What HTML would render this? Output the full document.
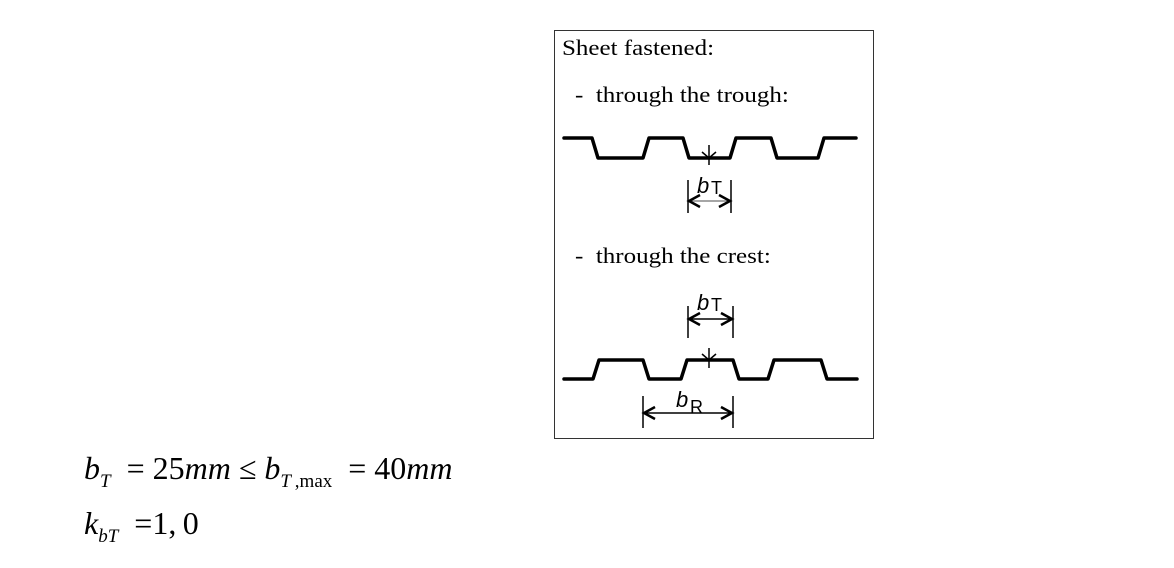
<!DOCTYPE html>
<html><head><style>
body{margin:0;width:1174px;height:568px;background:#fff;overflow:hidden;position:relative;font-family:"Liberation Serif",serif}
.t{position:absolute;font-size:25px;color:#000;white-space:nowrap;transform:scaleY(0.9);transform-origin:left top}
.f{position:absolute;font-size:32px;white-space:nowrap}
i{font-style:italic}
sub{font-size:19px;vertical-align:-8px}
</style></head><body>
<svg width="1174" height="568" style="position:absolute;left:0;top:0">
<rect x="554.5" y="30.5" width="319" height="408" fill="none" stroke="#333" stroke-width="1"/>
<g fill="none" stroke="#000" stroke-width="3.5" stroke-linejoin="round" stroke-linecap="round">
<polyline points="564,138 592,138 598,158 643,158 649,138 683,138 689,158 730,158 736,138 771,138 777,158 818,158 824,138 856,138"/>
<polyline points="564,379 593,379 599,360 643,360 649,379 681,379 687,360 733,360 739,379 768,379 774,360 821,360 827,379 857,379"/>
</g>
<g stroke="#000" stroke-width="1.5" fill="none">
<line x1="709" y1="145" x2="709" y2="165"/><line x1="702" y1="152" x2="709" y2="158"/><line x1="716" y1="152" x2="709" y2="158"/>
<line x1="709" y1="348" x2="709" y2="368"/><line x1="702" y1="354" x2="709" y2="360"/><line x1="716" y1="354" x2="709" y2="360"/>
<line x1="688" y1="180" x2="688" y2="213"/><line x1="731" y1="180" x2="731" y2="213"/>
<line x1="689" y1="201" x2="730" y2="201" stroke="#888"/>
<polyline points="700,195 689,201 700,207" stroke-width="2.5"/><polyline points="719,195 730,201 719,207" stroke-width="2.5"/>
<line x1="688" y1="306" x2="688" y2="338"/><line x1="733" y1="306" x2="733" y2="338"/>
<line x1="689" y1="319" x2="732" y2="319"/>
<polyline points="700,313 689,319 700,325" stroke-width="2.5"/><polyline points="721,313 732,319 721,325" stroke-width="2.5"/>
<line x1="643" y1="396" x2="643" y2="428"/><line x1="733" y1="396" x2="733" y2="428"/>
<line x1="644" y1="413" x2="732" y2="413"/>
<polyline points="655,407 644,413 655,419" stroke-width="2.5"/><polyline points="721,407 732,413 721,419" stroke-width="2.5"/>
</g>
<g font-family="Liberation Sans, sans-serif" font-size="22">
<text x="697" y="193" font-style="italic">b</text><text x="711" y="194" font-size="18">T</text>
<text x="697" y="310" font-style="italic">b</text><text x="711" y="311" font-size="18">T</text>
<text x="676" y="407" font-style="italic">b</text><text x="690" y="413" font-size="18">R</text>
</g>
</svg>
<div class="t" style="left:562px;top:36px">Sheet fastened:</div>
<div class="t" style="left:575px;top:83px">-&nbsp; through the trough:</div>
<div class="t" style="left:575px;top:244px">-&nbsp; through the crest:</div>
<div class="f" style="left:84px;top:450px"><i>b</i><sub><i>T</i></sub>&nbsp; = 25<i>mm</i> ≤ <i>b</i><sub><i>T</i>&thinsp;,max</sub>&nbsp; = 40<i>mm</i></div>
<div class="f" style="left:84px;top:505px"><i>k</i><sub><i>bT</i></sub>&nbsp; =1,&thinsp;0</div>
</body></html>
